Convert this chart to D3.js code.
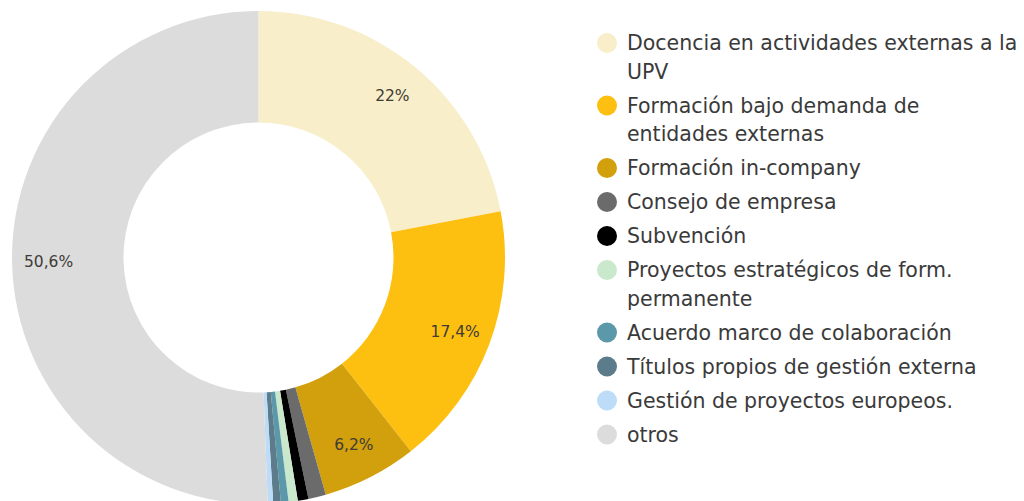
<!DOCTYPE html>
<html>
<head>
<meta charset="utf-8">
<script src="https://cdn.jsdelivr.net/npm/d3@7"></script>
<style>
	html, body { margin: 0; padding: 0; background: #fff; }
	svg { display: block; }
</style>
</head>
<body>
<div id="chartDiv"></div>
<script>
;(function() {

	var width = 1024;
	var height = 501;

	// data
	var categories = [
		"Docencia en actividades externas a la\nUPV",
		"Formación bajo demanda de\nentidades externas",
		"Formación in-company",
		"Consejo de empresa",
		"Subvención",
		"Proyectos estratégicos de form.\npermanente",
		"Acuerdo marco de colaboración",
		"Títulos propios de gestión externa",
		"Gestión de proyectos europeos.",
		"otros"
	];
	var values = [22, 17.4, 6.2, 1.15, 0.7, 0.6, 0.5, 0.5, 0.35, 50.6];
	var colors = ["#f8eec9", "#fdbf10", "#d1a00c", "#6b6b6b", "#000000",
		"#c9e8cc", "#5b98a9", "#5c7b8b", "#bcdcf7", "#dcdcdc"];

	var center = { x: 258.5, y: 257.5 };
	var outerRadius = 246.5;
	var innerRadius = 135;
	var labelRadius = 210;

	var svg = d3.select("#chartDiv").append("svg")
		.attr("width", width)
		.attr("height", height);

	var pie = d3.pie().sort(null).value(function(d) { return d; });
	var arcs = pie(values);

	var arc = d3.arc().innerRadius(innerRadius).outerRadius(outerRadius);
	var labelArc = d3.arc().innerRadius(labelRadius).outerRadius(labelRadius);

	var donut = svg.append("g")
		.attr("transform", "translate(" + center.x + "," + center.y + ")");

	donut.selectAll(".slice")
		.data(arcs)
		.enter().append("path")
			.attr("class", "slice")
			.attr("d", arc)
			.attr("fill", function(d, i) { return colors[i]; });

	// percentage labels on the bigger slices
	donut.selectAll(".pct")
		.data(arcs.filter(function(d) { return d.value >= 5; }))
		.enter().append("text")
			.attr("class", "pct")
			.attr("transform", function(d) { return "translate(" + labelArc.centroid(d) + ")"; })
			.attr("text-anchor", "middle")
			.attr("dy", "0.36em")
			.style("font-family", "'DejaVu Sans', sans-serif")
			.style("font-size", "15.5px")
			.attr("fill", "#3f3b35")
			.text(function(d) { return String(d.value).replace(".", ",") + "%"; });

	// legend
	var legendX = 607;
	var textX = 627;
	var lineStep = 28.5;
	var itemStep = 34;
	var y = 43;

	var legend = svg.append("g").attr("class", "legend");

	categories.forEach(function(name, i) {
		var lines = name.split("\n");
		legend.append("circle")
			.attr("cx", legendX)
			.attr("cy", y)
			.attr("r", 10)
			.attr("fill", colors[i]);
		var t = legend.append("text")
			.style("font-family", "'DejaVu Sans', sans-serif")
			.style("font-size", "20.5px")
			.attr("fill", "#3a3a3a");
		lines.forEach(function(line, j) {
			t.append("tspan")
				.attr("x", textX)
				.attr("y", y + j * lineStep)
				.attr("dy", "0.35em")
				.text(line);
		});
		y += (lines.length - 1) * lineStep + itemStep;
	});

})();
</script>
</body>
</html>
